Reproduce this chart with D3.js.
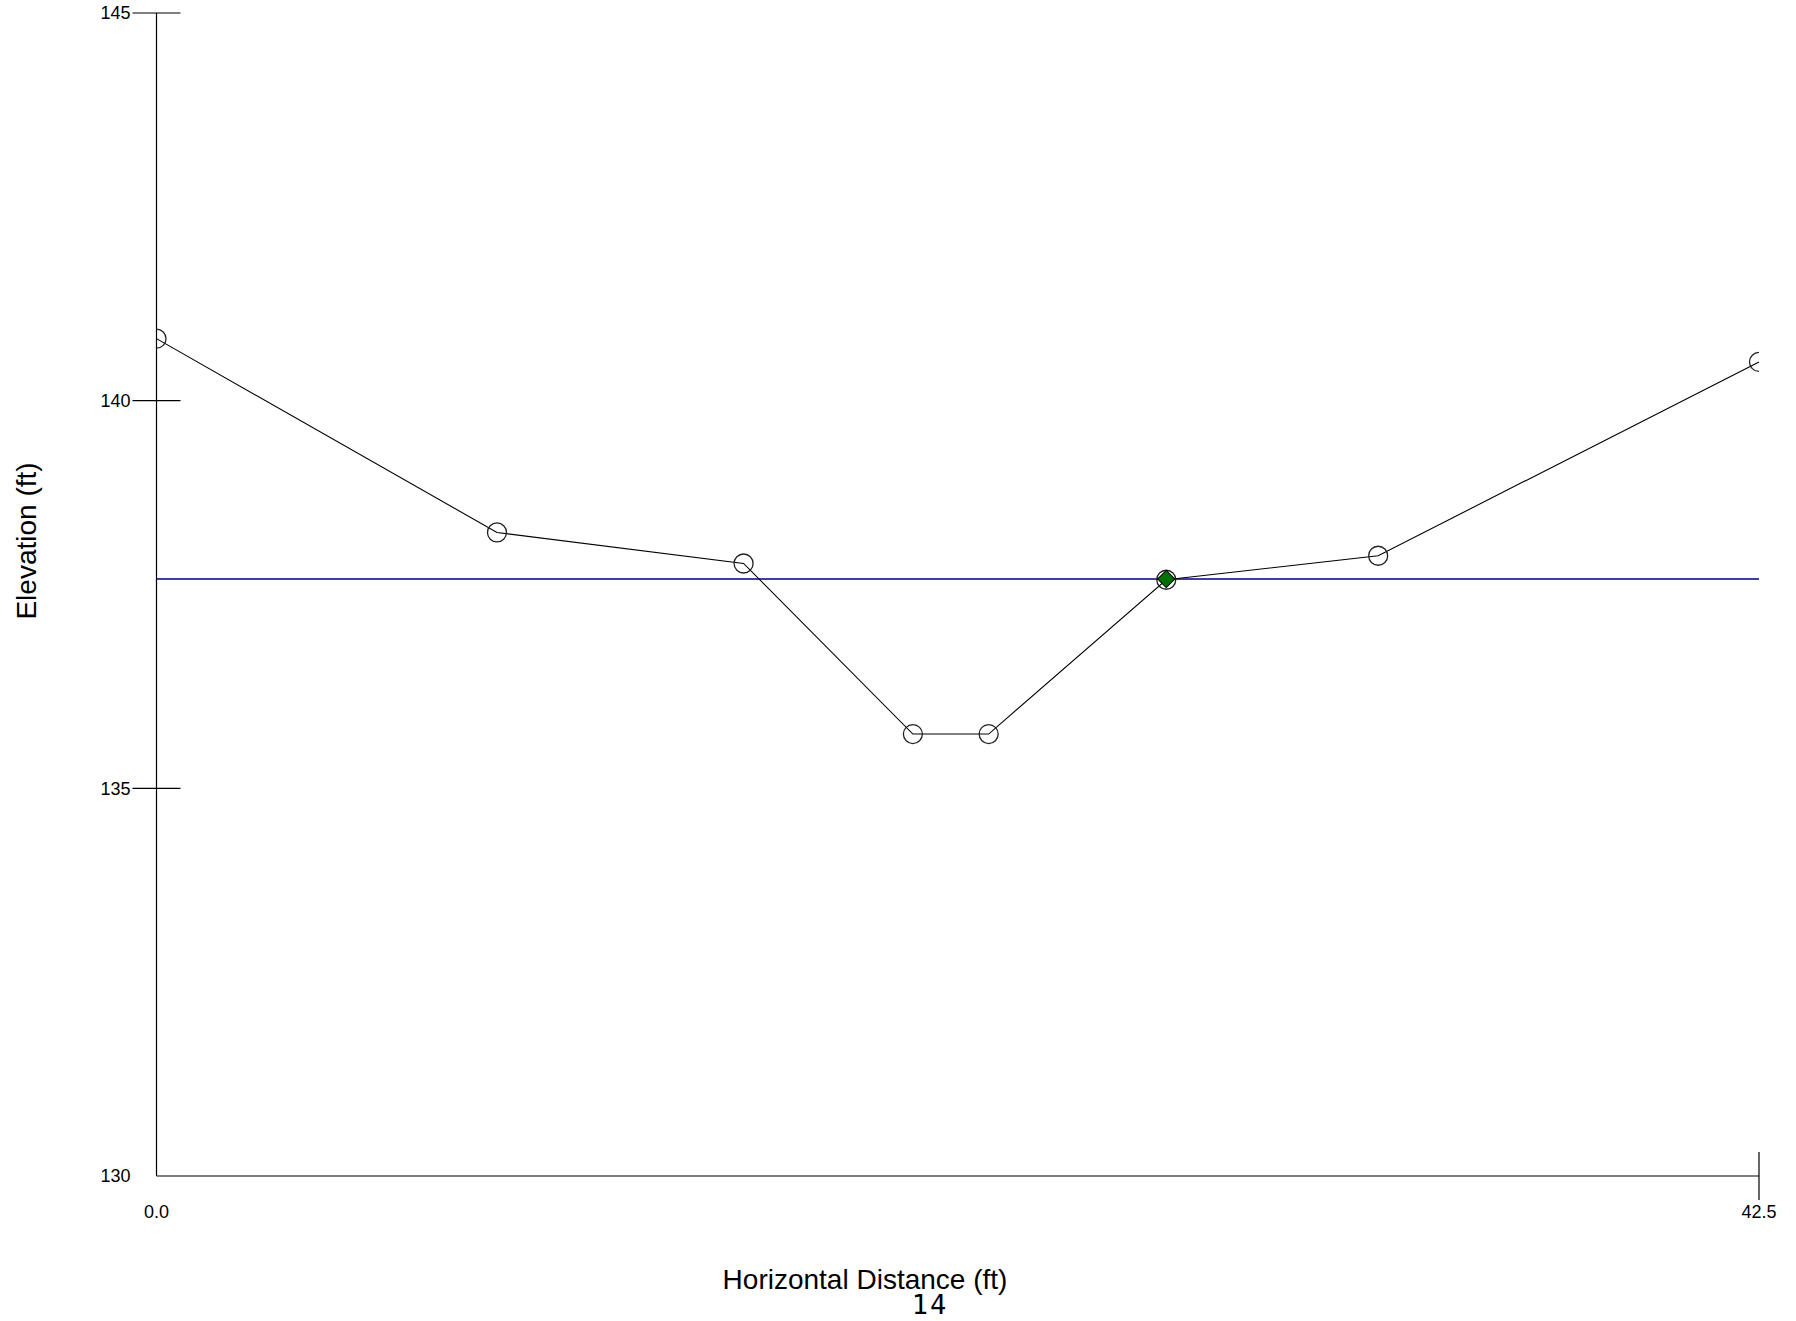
<!DOCTYPE html>
<html>
<head>
<meta charset="utf-8">
<script src="https://cdn.jsdelivr.net/npm/d3@7"></script>
<style>
html,body{margin:0;padding:0;background:#fff;}
svg{display:block;}
</style>
</head>
<body>
<svg id="chart" width="1796" height="1321"></svg>
<script>
// Data
const stations = [0.0, 9.03, 15.57, 20.06, 22.07, 26.78, 32.4, 42.5];
const elevations = [140.8, 138.3, 137.9, 135.7, 135.7, 137.69, 138.0, 140.5];
const waterSurface = 137.7;
const waterStation = 26.78;
const yTicks = [135, 140, 145];
const xTickLabels = ["0.0", "42.5"];
const xLabelValues = [0, 42.5];
const xDomain = [0, 42.5];
const yDomain = [130, 145];
const pageLabel = "14";

(function(){
const svg = d3.select("#chart");
const pL = 156.5, pR = 1759, pT = 13, pB = 1176;
const x = d3.scaleLinear().domain(xDomain).range([pL, pR]);
const y = d3.scaleLinear().domain(yDomain).range([pB, pT]);

svg.append("defs").append("clipPath").attr("id", "plotclip")
  .append("rect").attr("x", pL).attr("y", pT - 20).attr("width", pR - pL).attr("height", pB - pT + 40);

// Axes lines
svg.append("line").attr("x1", pL).attr("x2", pL).attr("y1", pT).attr("y2", pB)
  .attr("stroke", "#000").attr("stroke-width", 1.2);
svg.append("line").attr("x1", pL).attr("x2", pR).attr("y1", pB).attr("y2", pB)
  .attr("stroke", "#000").attr("stroke-width", 1.2);

// Y ticks (crossing the axis)
svg.selectAll(".yt").data(yTicks).enter().append("line")
  .attr("x1", pL - 24).attr("x2", pL + 24)
  .attr("y1", d => y(d)).attr("y2", d => y(d))
  .attr("stroke", "#000").attr("stroke-width", 1.2);
const yLabels = [130].concat(yTicks);
svg.selectAll(".yl").data(yLabels).enter().append("text")
  .attr("x", pL - 26).attr("y", d => y(d)).attr("dy", "0.35em")
  .attr("text-anchor", "end")
  .attr("font-family", "Liberation Sans, Arial, sans-serif").attr("font-size", 18)
  .text(d => d);

// X tick at right end
svg.append("line").attr("x1", x(42.5)).attr("x2", x(42.5)).attr("y1", pB - 24).attr("y2", pB + 24)
  .attr("stroke", "#000").attr("stroke-width", 1.2);
svg.selectAll(".xl").data(xLabelValues).enter().append("text")
  .attr("x", d => x(d)).attr("y", 1218).attr("text-anchor", "middle")
  .attr("font-family", "Liberation Sans, Arial, sans-serif").attr("font-size", 18)
  .text((d, i) => xTickLabels[i]);

// Water surface line
svg.append("line").attr("x1", x(xDomain[0])).attr("x2", x(xDomain[1]))
  .attr("y1", y(waterSurface)).attr("y2", y(waterSurface))
  .attr("stroke", "#000080").attr("stroke-width", 1.5);

// Ground line
const pts = stations.map((s, i) => [s, elevations[i]]);
svg.append("path").datum(pts)
  .attr("d", d3.line().x(d => x(d[0])).y(d => y(d[1])))
  .attr("fill", "none").attr("stroke", "#000").attr("stroke-width", 1.1);

// Point circles
svg.append("g").attr("clip-path", "url(#plotclip)")
  .selectAll("circle").data(pts).enter().append("circle")
  .attr("cx", d => x(d[0])).attr("cy", d => y(d[1])).attr("r", 9.5)
  .attr("fill", "none").attr("stroke", "#222").attr("stroke-width", 1.3);

// Water surface marker (green diamond)
const wx = x(waterStation), wy = y(waterSurface);
svg.append("path")
  .attr("d", d3.symbol().type(d3.symbolSquare).size(150)())
  .attr("transform", `translate(${wx},${wy}) rotate(45)`)
  .attr("fill", "#007000").attr("stroke", "#000").attr("stroke-width", 1);

// Axis titles
svg.append("text").attr("x", 865).attr("y", 1289).attr("text-anchor", "middle")
  .attr("font-family", "Liberation Sans, Arial, sans-serif").attr("font-size", 28)
  .text("Horizontal Distance (ft)");
svg.append("text").attr("transform", "translate(36,541) rotate(-90)")
  .attr("text-anchor", "middle")
  .attr("font-family", "Liberation Sans, Arial, sans-serif").attr("font-size", 28)
  .text("Elevation (ft)");
svg.append("text").attr("x", 930).attr("y", 1314).attr("text-anchor", "middle")
  .attr("font-family", "DejaVu Sans Mono, monospace").attr("font-size", 27)
  .attr("font-weight", 300)
  .attr("letter-spacing", 2)
  .text(pageLabel);
})();
</script>
</body>
</html>
